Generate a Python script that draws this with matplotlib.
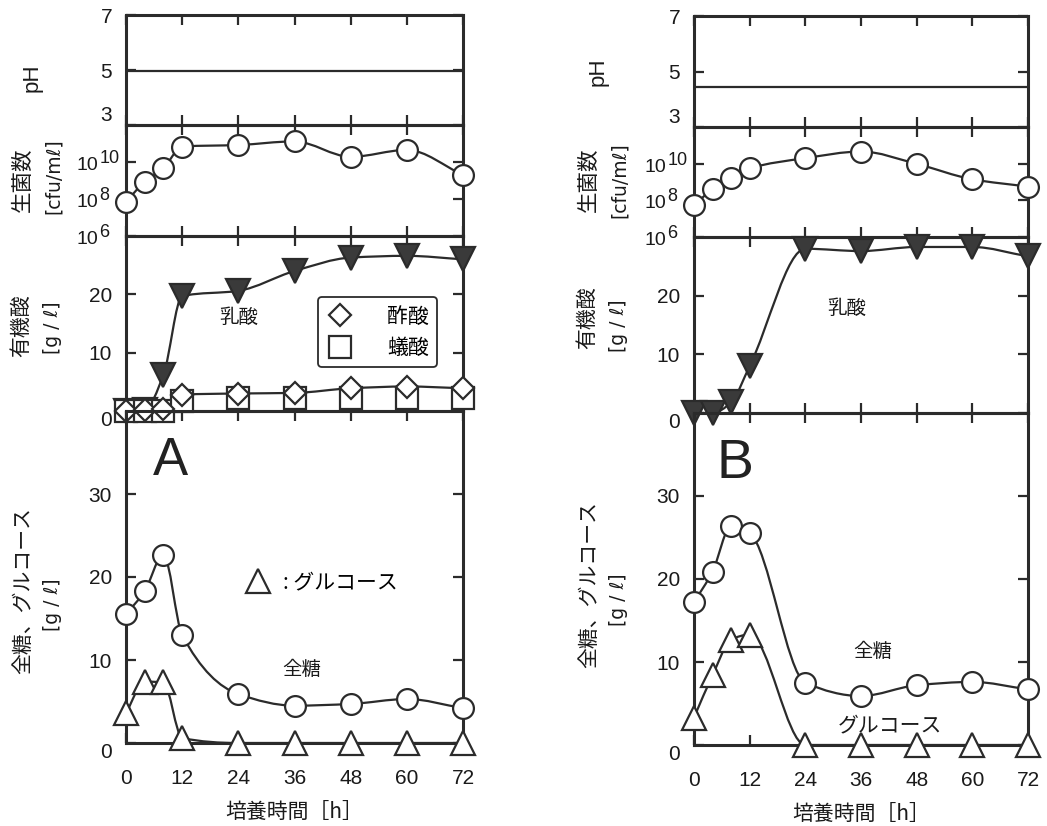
import numpy as np
import matplotlib
matplotlib.use("Agg")
import matplotlib.pyplot as plt
from matplotlib.path import Path
from matplotlib.patches import PathPatch

plt.rcParams['font.family'] = ['Liberation Sans', 'Noto Sans CJK JP', 'DejaVu Sans']

INK = '#2b2b2b'
FILL = '#3a3a3a'
TXT = '#1a1a1a'
CJK = ['Noto Sans CJK JP', 'DejaVu Sans']

# ---- data -------------------------------------------------------------
hours = [0, 4, 8, 12, 24, 36, 48, 60, 72]
hour_ticks = [0, 12, 24, 36, 48, 60, 72]

# culture A
ph_a = [4.95, 4.95, 4.95, 4.95, 4.95, 4.95, 4.95, 4.95, 4.95]
cfu_a = [7.1e7, 8.5e8, 4.6e9, 6.8e10, 8.3e10, 1.3e11, 1.9e10, 4.5e10, 2.0e9]
lactic_a = [0.0, 0.2, 6.2, 19.7, 20.6, 24.0, 26.3, 26.6, 26.0]
acetic_a = [0.0, 0.1, 0.3, 2.8, 3.0, 3.1, 3.9, 4.2, 3.9]
formic_a = [0.0, 0.0, 0.0, 1.7, 2.2, 2.2, 2.2, 2.2, 2.2]
total_sugar_a = [15.5, 18.3, 22.7, 13.0, 5.9, 4.5, 4.7, 5.3, 4.2]
glucose_a = [3.6, 7.4, 7.3, 0.6, 0.0, 0.0, 0.0, 0.0, 0.0]

# culture B
ph_b = [4.45, 4.45, 4.45, 4.45, 4.45, 4.45, 4.45, 4.45, 4.45]
cfu_b = [5.6e7, 4.0e8, 1.6e9, 5.6e9, 2.0e10, 4.6e10, 9.8e9, 1.4e9, 5.6e8]
lactic_b = [0.0, 0.0, 1.8, 8.0, 28.0, 27.6, 28.3, 28.3, 26.7]
total_sugar_b = [17.2, 20.9, 26.4, 25.5, 7.5, 5.9, 7.2, 7.6, 6.7]
glucose_b = [3.3, 8.4, 12.7, 13.3, 0.0, 0.0, 0.0, 0.0, 0.0]

ph_ticks = [3, 5, 7]
cfu_ticks = [1e6, 1e8, 1e10]
cfu_exponents = ['6', '8', '10']
acid_ticks = [0, 10, 20]
sugar_ticks = [0, 10, 20, 30]

W, H = 1047, 826
fig = plt.figure(figsize=(W / 100, H / 100), dpi=100)


def fx(px):
    return px / W


def fy(py):
    return 1 - py / H


def add_axes_px(left, top, right, bottom):
    ax = fig.add_axes([fx(left), fy(bottom), (right - left) / W, (bottom - top) / H])
    ax.set_facecolor('none')
    for s in ax.spines.values():
        s.set_linewidth(2.2)
        s.set_color(INK)
    ax.set_xlim(0, 72)
    ax.set_xticks(hour_ticks)
    ax.tick_params(axis='both', which='major', direction='in', length=7, width=1.6,
                   color=INK, top=True, right=True, labelsize=15, labelcolor=TXT)
    ax.tick_params(axis='y', pad=10)
    ax.tick_params(axis='x', labelbottom=False)
    ax.minorticks_off()
    return ax


def smooth_curve(ax, x, y, log=False, **kw):
    """Monotone cubic (PCHIP-style) Bezier line running through the points."""
    x = np.asarray(x, float)
    y = np.asarray(y, float)
    if log:
        y = np.log10(y)
    h = np.diff(x)
    d = np.diff(y) / h
    m = np.zeros_like(y)
    m[0], m[-1] = d[0], d[-1]
    for i in range(1, len(y) - 1):
        if d[i - 1] * d[i] <= 0:
            m[i] = 0.0
        else:
            w1 = 2 * h[i] + h[i - 1]
            w2 = h[i] + 2 * h[i - 1]
            m[i] = (w1 + w2) / (w1 / d[i - 1] + w2 / d[i])
    verts = [(x[0], y[0])]
    codes = [Path.MOVETO]
    for i in range(len(h)):
        verts += [(x[i] + h[i] / 3, y[i] + m[i] * h[i] / 3),
                  (x[i + 1] - h[i] / 3, y[i + 1] - m[i + 1] * h[i] / 3),
                  (x[i + 1], y[i + 1])]
        codes += [Path.CURVE4] * 3
    verts = np.array(verts)
    if log:
        verts[:, 1] = 10 ** verts[:, 1]
    ax.add_patch(PathPatch(Path(verts, codes), fill=False, edgecolor=INK,
                           linewidth=1.6, zorder=2, **kw))


def markers(ax, x, y, marker, size, filled=False, label=None):
    return ax.plot(x, y, linestyle='none', marker=marker, markersize=size,
                   markerfacecolor=FILL if filled else 'white', markeredgecolor=INK,
                   markeredgewidth=1.6, clip_on=False, zorder=4, label=label)[0]


def power_labels(ax):
    """'10' with a full-height exponent beside each decade tick."""
    tr = ax.get_yaxis_transform()
    for v, e in zip(cfu_ticks, cfu_exponents):
        ax.annotate('10', xy=(0, v), xycoords=tr, xytext=(-20, -2.5),
                    textcoords='offset points', ha='right', va='center',
                    fontsize=14, color=TXT, annotation_clip=False)
        ax.annotate(e, xy=(0, v), xycoords=tr, xytext=(-19, 2.5),
                    textcoords='offset points', ha='left', va='center',
                    fontsize=13, color=TXT, annotation_clip=False)


def panel(left, right, tops, ph, cfu, lactic, total, glucose):
    t_ph, t_cfu, t_acid, t_sugar, b_sugar = tops
    # pH
    ax_ph = add_axes_px(left, t_ph, right, t_cfu)
    ax_ph.set_ylim(3, 7)
    ax_ph.set_yticks(ph_ticks, labels=[str(v) for v in ph_ticks])
    ax_ph.get_yticklabels()[0].set_va('bottom')
    ax_ph.plot(hours, ph, color=INK, linewidth=1.6)

    # viable count
    ax_cfu = add_axes_px(left, t_cfu, right, t_acid)
    ax_cfu.set_yscale('log')
    ax_cfu.set_ylim(1e6, 1e12)
    ax_cfu.set_yticks(cfu_ticks, labels=['', '', ''])
    ax_cfu.minorticks_off()
    power_labels(ax_cfu)
    smooth_curve(ax_cfu, hours, cfu, log=True)
    markers(ax_cfu, hours, cfu, 'o', 15)

    # organic acids
    ax_acid = add_axes_px(left, t_acid, right, t_sugar)
    ax_acid.set_ylim(0, 30)
    ax_acid.set_yticks(acid_ticks, labels=[str(v) for v in acid_ticks])
    ax_acid.get_yticklabels()[0].set_va('top')
    smooth_curve(ax_acid, hours, lactic)
    markers(ax_acid, hours, lactic, 'v', 17, filled=True)

    # total sugar and glucose
    ax_sug = add_axes_px(left, t_sugar, right, b_sugar)
    ax_sug.set_ylim(0, 40)
    ax_sug.set_yticks(sugar_ticks, labels=[str(v) for v in sugar_ticks])
    ax_sug.get_yticklabels()[0].set_va('top')
    ax_sug.tick_params(axis='x', labelbottom=True, pad=19)
    ax_sug.set_xlabel('培養時間［h］', family=CJK, fontsize=15, labelpad=9, color=TXT)
    smooth_curve(ax_sug, hours, total)
    smooth_curve(ax_sug, hours, glucose)
    markers(ax_sug, hours, total, 'o', 15)
    gl = markers(ax_sug, hours, glucose, '^', 17)
    return ax_ph, ax_cfu, ax_acid, ax_sug, gl


# ---- culture A ------------------------------------------------------------
a_ph, a_cfu, a_acid, a_sug, a_gl = panel(126, 463, (15, 125, 236, 411, 743),
                                          ph_a, cfu_a, lactic_a, total_sugar_a, glucose_a)
smooth_curve(a_acid, hours, acetic_a)
ac = markers(a_acid, hours, acetic_a, 'D', 11.5, label='酢酸')
fo = markers(a_acid, hours, formic_a, 's', 16, label='蟻酸')
ac.set_zorder(5)
a_acid.legend(handles=[ac, fo], loc='upper left', bbox_to_anchor=(0.57, 0.65),
              borderaxespad=0, prop={'family': CJK, 'size': 15}, frameon=True,
              fancybox=True, edgecolor=INK, framealpha=1, handlelength=1.3,
              handletextpad=1.6, labelspacing=0.45, borderpad=0.4)
a_acid.get_legend().get_frame().set_linewidth(1.3)
a_acid.text(24, 16, '乳酸', family=CJK, fontsize=14, ha='center', va='center', color=TXT)

a_sug.legend(handles=[a_gl], labels=[': グルコース'], loc='center left',
             bbox_to_anchor=(0.355, 0.485), borderaxespad=0, borderpad=0,
             frameon=False, prop={'family': CJK, 'size': 15},
             handlelength=1.2, handletextpad=0.6)
a_sug.text(37.6, 8.85, '全糖', family=CJK, fontsize=14, ha='center', va='center', color=TXT)
a_sug.text(9.4, 34, 'A', fontsize=38, ha='center', va='center', color='#222222')

# ---- culture B ------------------------------------------------------------
b_ph, b_cfu, b_acid, b_sug, b_gl = panel(694, 1028, (16, 127, 237, 413, 745),
                                          ph_b, cfu_b, lactic_b, total_sugar_b, glucose_b)
b_acid.text(33, 17.9, '乳酸', family=CJK, fontsize=14, ha='center', va='center', color=TXT)
b_sug.text(38.6, 11.3, '全糖', family=CJK, fontsize=14, ha='center', va='center', color=TXT)
b_sug.text(42.2, 2.4, 'グルコース', family=CJK, fontsize=15, ha='center', va='center', color=TXT)
b_sug.text(8.8, 33.9, 'B', fontsize=40, ha='center', va='center', color='#222222')


# ---- axis titles --------------------------------------------------------------
def vlabel(px, py, s, size, fam=None):
    fig.text(fx(px), fy(py), s, rotation=90, ha='center', va='center',
             fontsize=size, family=fam if fam else CJK, color=TXT)


for dx, ys in ((0, (78, 180, 176, 326, 328, 590, 605)),
               (566, (72, 180, 180, 318, 326, 584, 600))):
    vlabel(32 + dx, ys[0], 'pH', 16, ['Liberation Sans'])
    vlabel(23 + dx, ys[1], '生菌数', 15.5)
    vlabel(53 + dx, ys[2], '[cfu/mℓ]', 13.5, ['DejaVu Sans'])
    vlabel(21 + dx, ys[3], '有機酸', 15)
    vlabel(53 + dx, ys[4], '[g / ℓ]', 13.5, ['DejaVu Sans'])
    vlabel(23 + dx, ys[5], '全糖、グルコース', 15)
    vlabel(53 + dx, ys[6], '[g / ℓ]', 13.5, ['DejaVu Sans'])

fig.savefig('out.png', dpi=100, facecolor='white')
